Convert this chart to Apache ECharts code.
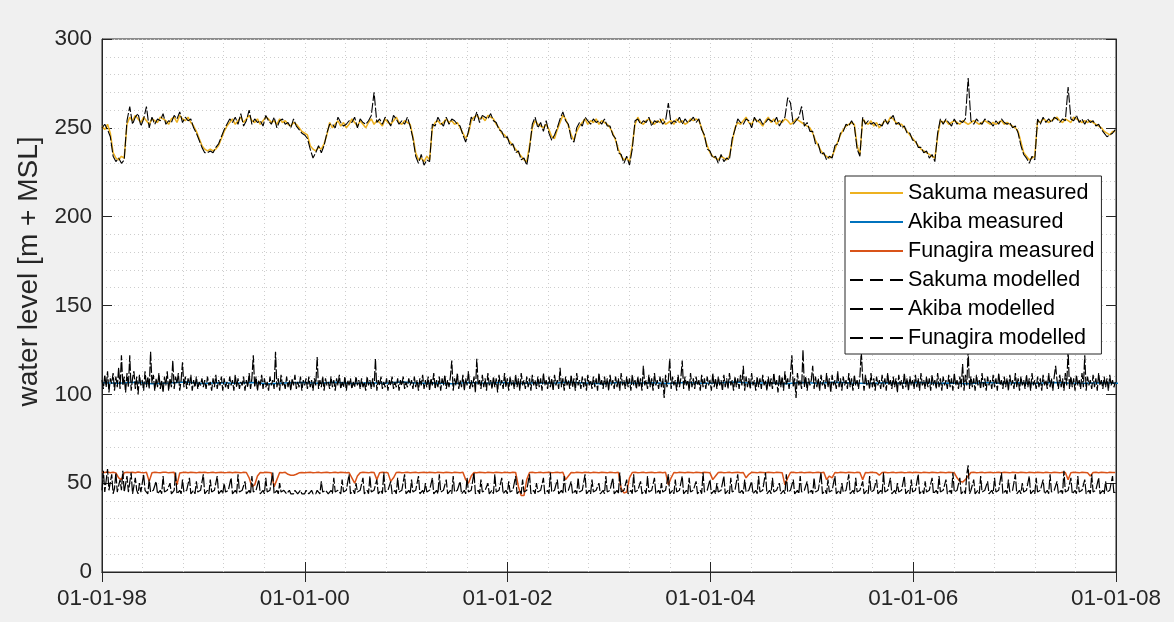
<!DOCTYPE html>
<html>
<head>
<meta charset="utf-8">
<script src="https://cdn.jsdelivr.net/npm/echarts@6/dist/echarts.min.js"></script>
<style>
  html, body { margin: 0; padding: 0; background: #f0f0f0; }
  #chart { width: 1174px; height: 622px; }
</style>
</head>
<body>
<div id="chart"></div>
<script>
// Water levels from 1 Jan 1998, one value every N days per series.
const START_YEAR = 1998;
const END_YEAR = 2008;
const STEP_DAYS = 10;        // Sakuma (both) and Funagira measured
const DENSE_STEP_DAYS = 5;   // Akiba and Funagira modelled
const AKIBA_STEP_DAYS = 60;  // Akiba measured

const xTickLabels = ['01-01-98', '01-01-00', '01-01-02', '01-01-04', '01-01-06', '01-01-08'];
const yTickValues = [0, 50, 100, 150, 200, 250, 300];

const seriesNames = [
  'Sakuma measured', 'Akiba measured', 'Funagira measured',
  'Sakuma modelled', 'Akiba modelled', 'Funagira modelled'
];

const sakumaMeasured = [
  251, 249, 252, 247, 236, 233, 232, 234, 233,
  252, 256, 254, 257, 255, 253, 256, 254, 252, 255, 254, 253, 256, 255, 254, 252, 255, 256, 253, 257, 255, 254, 256, 253, 251,
  248, 244, 240, 238, 237, 238, 237, 238, 240, 244, 248, 251,
  253, 255, 252, 254, 256, 253, 255, 257, 254, 253, 255, 252, 254, 256, 255, 253, 254, 252, 255, 253, 254, 252, 251, 253, 252, 250,
  248, 247, 246, 240, 238, 237, 239, 238, 241, 246, 253,
  250, 252, 254, 251, 253, 250, 252, 255, 253, 251, 254, 252, 250, 253, 255, 252, 254, 253, 251, 255, 253, 252, 254, 256, 253, 252, 254, 253, 252,
  245, 236, 232, 233, 231, 234, 232,
  250, 253, 254, 252, 253, 255, 253, 254, 252, 253, 250,
  247, 244, 247,
  254, 256, 257, 255, 256, 254, 257, 256, 255,
  252, 250, 247, 246, 244, 242, 240, 238, 236, 234, 232, 231,
  240, 250, 254,
  252, 251, 250, 252, 249, 245, 244, 249,
  253, 257, 255, 251,
  246, 243, 248,
  251, 253, 255, 252, 254, 253, 255, 252, 254, 253, 252,
  250, 247, 243, 238, 234, 232, 233, 231,
  240, 252, 256,
  253, 252, 254, 255, 253, 252, 254, 253, 255, 252, 253, 254, 252, 255, 253, 254, 252, 253, 255, 254, 255, 254, 250, 245,
  240, 236, 234, 233, 232, 234, 233, 232, 234,
  242, 250, 253,
  252, 254, 256, 253, 252, 255, 254, 253, 251, 254, 256, 253, 255, 252, 254, 253, 255, 254, 252, 253, 255, 254, 253, 252, 251,
  250, 247, 243, 240, 237, 235, 234, 233,
  234, 238, 242, 246, 249, 251, 252, 253, 252,
  240, 235,
  255, 253, 252, 254, 251, 253, 250, 252, 254, 253, 256, 255, 253, 252,
  252, 250, 248, 246, 244, 242, 240, 238, 237, 236, 235, 234, 233,
  245, 254,
  253, 254, 252, 253, 254, 253, 252, 254, 253, 252, 253, 254, 253, 252, 253, 254, 253, 252, 253, 252, 253, 254, 252, 253, 252, 251, 250,
  248, 242, 236, 234, 232, 233, 234,
  254, 253, 255, 254, 253, 254, 255, 256, 254, 253, 255, 254, 253, 256, 255, 254, 253, 254, 253, 254, 253, 252, 251,
  250, 248, 247, 246, 248, 248
];

const sakumaModelled = [
  250, 252, 249, 245, 234, 231, 233, 230, 232,
  254, 262, 252, 256, 258, 251, 255, 262, 250, 256, 252, 255, 254, 258, 252, 254, 253, 257, 255, 259, 253, 256, 254, 255, 250,
  247, 243, 239, 236, 236, 237, 236, 239, 241, 245, 249, 252,
  255, 253, 256, 252, 258, 251, 254, 260, 252, 255, 253, 254, 251, 257, 254, 252, 256, 250, 254, 255, 252, 253, 250, 255, 251, 249,
  247, 246, 244, 238, 233, 236, 240, 236, 240, 247, 252,
  252, 250, 256, 253, 251, 252, 254, 253, 256, 250, 255, 253, 252, 254, 257, 270, 253, 255, 252, 256, 254, 251, 257, 255, 252, 254, 252, 256, 251,
  244, 234, 230, 235, 229, 232, 231,
  252, 251, 256, 253, 251, 256, 252, 255, 254, 252, 251,
  246, 242, 248,
  256, 254, 259, 253, 257, 256, 255, 258, 254,
  253, 249, 248, 244, 245, 240, 241, 236, 237, 232, 233, 229,
  238, 252, 256,
  250, 253, 248, 254, 247, 243, 246, 250,
  255, 259, 254, 252,
  244, 242, 250,
  253, 251, 256, 254, 252, 255, 253, 254, 252, 255, 251,
  251, 246, 244, 236, 235, 230, 234, 229,
  238, 254, 255,
  252, 254, 253, 256, 251, 254, 253, 255, 252, 254, 264, 252, 254, 253, 256, 252, 255, 253, 254, 256, 253, 255, 249, 246,
  238, 237, 233, 234, 230, 235, 231, 233, 232,
  244, 249, 255,
  253, 252, 255, 254, 250, 256, 253, 255, 252, 253, 255, 254, 253, 256, 251, 254, 256, 267, 264, 252, 254, 256, 262, 251, 253,
  248, 248, 241, 241, 235, 236, 232, 234,
  233, 240, 241, 247, 248, 252, 251, 254, 251,
  238, 234,
  256, 252, 254, 252, 253, 251, 252, 251, 255, 252, 255, 257, 252, 253,
  250, 251, 247, 247, 243, 243, 239, 239, 236, 237, 233, 235, 231,
  247, 255,
  252, 255, 253, 251, 255, 252, 254, 253, 255, 278, 254, 252, 255, 253, 252, 255, 254, 253, 251, 254, 252, 255, 253, 252, 253, 250, 251,
  247, 240, 235, 233, 230, 234, 232,
  255, 252, 256, 253, 255, 253, 256, 255, 253, 255, 254, 273, 255, 254, 257, 253, 255, 252, 255, 253, 254, 251, 252,
  249, 247, 245, 246, 247, 249
];

const akibaMeasured = [
  106.5, 106.2, 106.8, 106.0, 106.4, 106.9, 106.1, 106.5, 106.3, 106.7,
  106.0, 106.4, 106.6, 106.2, 106.8, 106.1, 106.5, 106.3, 106.9, 106.2,
  106.4, 106.0, 106.6, 106.3, 106.7, 106.1, 106.5, 106.2, 106.8, 106.4,
  106.0, 106.6, 106.3, 106.5, 106.1, 106.7, 106.2, 106.4, 106.9, 106.3,
  106.5, 106.0, 106.6, 106.2, 106.8, 106.4, 106.1, 106.5, 106.3, 106.7,
  106.2, 106.4, 106.0, 106.6, 106.3, 106.5, 106.1, 106.7, 106.4, 106.2,
  106.5, 106.3
];

const akibaModelled = [
  108, 103, 111, 104, 113, 101, 109, 106, 112, 102, 110, 104, 115, 103, 122, 105, 110, 101, 112, 104, 122, 102, 109, 113, 103, 110, 100, 111, 105, 108, 102, 113, 104, 110, 103, 124, 106,
  111, 102, 109, 104, 112, 103, 108, 101, 110, 105, 113, 102, 109, 104, 119, 103, 110, 106, 112, 102, 108, 118, 104, 110, 103, 109, 105, 111, 102, 108, 104, 110, 103, 107, 105, 109, 104,
  108, 103, 110, 105, 107, 102, 109, 104, 111, 103, 108, 105, 110, 102, 109, 104, 107, 103, 110, 105, 108, 102, 111, 104, 109, 103, 107, 105, 110, 102, 108, 104, 112, 103, 109, 122, 104,
  110, 102, 108, 105, 111, 103, 109, 104, 107, 102, 110, 105, 108, 103, 124, 104, 109, 102, 111, 105, 107, 103, 110, 104, 108, 102, 109, 105, 111, 103, 107, 104, 110, 102, 108, 105, 109,
  103, 110, 104, 108, 102, 109, 105, 121, 103, 108, 104, 110, 102, 109, 105, 107, 103, 110, 104, 108, 102, 109, 105, 111, 103, 107, 104, 110, 102, 108, 105, 109, 103, 107, 104, 110, 105,
  108, 103, 109, 104, 107, 102, 110, 105, 108, 103, 109, 104, 120, 102, 108, 105, 110, 103, 107, 104, 109, 102, 108, 105, 110, 103, 107, 104, 109, 102, 108, 105, 110, 103, 107, 104, 109,
  105, 108, 103, 110, 104, 108, 102, 109, 105, 111, 103, 108, 104, 110, 102, 109, 105, 112, 103, 108, 104, 110, 102, 109, 105, 111, 103, 108, 104, 110, 119, 102, 109, 105, 112, 103, 108,
  104, 111, 102, 109, 105, 113, 103, 108, 104, 110, 101, 120, 105, 108, 103, 111, 104, 109, 102, 112, 105, 108, 103, 110, 104, 109, 101, 111, 105, 108, 103, 112, 104, 109, 102, 110, 105,
  108, 103, 111, 104, 109, 102, 112, 105, 108, 103, 110, 104, 109, 102, 111, 105, 108, 103, 110, 104, 109, 102, 112, 105, 108, 103, 110, 104, 109, 102, 111, 105, 108, 103, 115, 104, 109,
  102, 110, 105, 108, 103, 111, 104, 109, 102, 112, 105, 108, 103, 110, 104, 109, 102, 111, 105, 108, 103, 110, 104, 109, 102, 112, 105, 108, 103, 110, 104, 109, 102, 111, 105, 108, 103,
  110, 104, 109, 102, 112, 105, 108, 103, 110, 104, 109, 102, 111, 105, 108, 103, 110, 104, 109, 102, 116, 105, 108, 103, 111, 104, 109, 102, 112, 105, 108, 103, 110, 104, 109, 98, 111,
  104, 108, 120, 103, 110, 105, 108, 102, 111, 104, 109, 119, 103, 110, 105, 108, 102, 112, 104, 109, 103, 110, 105, 108, 102, 111, 104, 109, 103, 110, 105, 108, 102, 112, 104, 109, 103,
  110, 105, 108, 102, 111, 104, 109, 103, 112, 105, 108, 102, 110, 104, 109, 103, 111, 105, 116, 102, 110, 104, 109, 103, 112, 105, 108, 102, 110, 104, 109, 103, 111, 105, 108, 102, 110,
  104, 109, 103, 112, 105, 108, 101, 111, 104, 110, 102, 113, 105, 109, 103, 111, 122, 104, 109, 98, 112, 105, 108, 103, 125, 104, 110, 102, 109, 105, 108, 116, 103, 110, 104, 109, 102,
  111, 105, 108, 103, 112, 104, 109, 101, 111, 105, 108, 103, 113, 104, 109, 102, 110, 105, 108, 103, 112, 104, 109, 102, 111, 105, 108, 103, 110, 124, 109, 102, 111, 105, 108, 103, 112,
  104, 109, 102, 110, 105, 108, 103, 111, 104, 109, 102, 112, 105, 108, 103, 110, 104, 109, 101, 111, 105, 108, 103, 112, 104, 109, 102, 110, 105, 108, 103, 111, 104, 109, 102, 112, 105,
  108, 103, 110, 104, 109, 102, 111, 105, 108, 103, 112, 104, 109, 102, 110, 105, 108, 103, 111, 104, 109, 102, 112, 105, 108, 103, 110, 104, 117, 102, 111, 105, 125, 103, 110, 104, 109,
  102, 111, 105, 108, 103, 112, 104, 109, 102, 110, 105, 108, 103, 111, 104, 109, 102, 112, 105, 108, 103, 110, 104, 109, 102, 111, 105, 108, 103, 112, 104, 109, 102, 110, 105, 108, 103,
  111, 104, 109, 102, 112, 105, 108, 103, 110, 104, 109, 102, 111, 105, 108, 103, 112, 104, 109, 102, 110, 116, 108, 103, 111, 104, 109, 102, 112, 105, 125, 103, 110, 104, 109, 102, 111,
  105, 108, 103, 112, 104, 122, 102, 110, 105, 108, 103, 111, 104, 109, 102, 112, 105, 108, 103, 110, 104, 109, 102, 111, 105, 108, 104, 107
];

const funagiraMeasured = [
  56.2, 56.0, 56.3, 55.9, 56.1, 55.8, 53, 52, 55.9, 56.2, 56.0, 56.1, 55.9, 56.3, 56.0, 55.8, 56.1, 51, 55.9, 56.2, 56.0, 55.9, 56.1, 56.2, 55.8, 56.0, 56.1, 49, 55.7, 56.0, 56.2, 55.9, 56.1, 56.0, 55.8, 56.1, 56.0,
  56.1, 55.9, 56.0, 56.2, 55.8, 56.0, 56.1, 55.9, 56.0, 56.2, 55.9, 56.1, 56.0, 55.8, 56.1, 56.0, 53, 48, 49, 54, 56.0, 55.9, 56.1, 56.0, 55.8, 48, 52, 56.0, 55.9, 56.1, 55, 54.5, 54.5, 55, 55.8, 56.0, 55.9,
  56.0, 56.1, 55.9, 56.0, 56.2, 55.8, 56.0, 56.1, 55.9, 56.0, 56.2, 55.9, 56.1, 56.0, 55.8, 56.0, 53, 50, 54, 55.9, 56.1, 56.0, 55.8, 56.1, 56.0, 52, 55.9, 56.1, 56.0, 55.8, 51, 53, 56.0, 56.1, 55.9, 56.0, 56.2,
  55.9, 56.0, 56.1, 55.8, 56.0, 56.2, 55.9, 56.1, 56.0, 55.8, 56.1, 56.0, 55.9, 56.2, 56.0, 55.8, 56.1, 56.0, 55.9, 56.1, 52, 50, 54, 56.0, 55.9, 56.1, 56.0, 55.8, 56.1, 56.0, 55.9, 56.2, 56.0, 55.8, 56.1, 56.0, 55.9,
  56.1, 56.0, 48, 43, 43, 52, 56.0, 56.1, 55.9, 56.0, 56.2, 55.8, 56.0, 56.1, 55.9, 56.0, 56.2, 55.9, 56.1, 52, 54, 56.0, 55.8, 56.1, 56.0, 55.9, 56.2, 56.0, 55.8, 56.1, 56.0, 55.9, 56.1, 56.0, 55.8, 56.2, 56.0,
  55.9, 56.1, 47, 44.5, 45, 53, 56.0, 56.1, 55.9, 56.0, 56.2, 55.8, 56.0, 56.1, 55.9, 56.0, 56.2, 55.9, 56.1, 49, 53, 56.0, 55.8, 56.1, 56.0, 55.9, 56.2, 56.0, 55.8, 56.1, 56.0, 55.9, 56.1, 56.0, 55.8, 52, 54,
  56.0, 56.1, 55.9, 56.0, 56.2, 55.8, 56.0, 56.1, 55.9, 56.0, 53, 55, 56.1, 56.0, 55.8, 56.1, 56.0, 55.9, 56.2, 56.0, 55.8, 56.1, 56.0, 55.9, 49, 53, 56.0, 56.1, 55.9, 56.0, 56.2, 55.8, 56.0, 56.1, 55.9, 56.0, 56.2,
  55.9, 56.1, 52, 54, 53, 56.0, 55.8, 56.1, 56.0, 55.9, 56.2, 56.0, 55.8, 56.1, 56.0, 52, 56.0, 55.9, 56.1, 56.0, 55.8, 54.5, 56.0, 56.1, 55.9, 56.0, 56.2, 55.8, 56.0, 56.1, 55.9, 56.0, 56.2, 55.9, 56.1, 56.0, 55.8,
  56.1, 56.0, 55.9, 56.2, 56.0, 55.8, 56.1, 56.0, 55.9, 56.1, 56.0, 55.8, 53, 51, 50.6, 52, 54, 56.0, 56.1, 55.9, 56.0, 56.2, 55.8, 56.0, 56.1, 55.9, 56.0, 56.2, 55.9, 56.1, 56.0, 55.8, 56.1, 56.0, 55.9, 56.2, 56.0,
  55.8, 56.1, 56.0, 55.9, 56.1, 56.0, 55.8, 56.2, 56.0, 55.9, 56.1, 56.0, 55.8, 56.1, 56.0, 52, 55.9, 56.1, 56.0, 55.8, 56.1, 56.0, 55.9, 54, 56.0, 56.2, 55.9, 56.1, 56.0, 55.8, 56.1, 56.0, 56.0
];

const funagiraModelled = [
  46, 57, 45, 44, 58, 46, 45, 55, 44, 47, 56, 45, 44, 52, 46, 57, 45, 44, 54, 45, 46, 56, 44, 45, 53, 46, 44, 50, 45, 44, 55, 46, 45, 44, 52, 45, 44,
  46, 45, 51, 44, 45, 46, 44, 54, 45, 44, 46, 45, 50, 44, 45, 46, 56, 44, 45, 46, 44, 52, 45, 44, 46, 45, 53, 44, 45, 46, 44, 51, 45, 44, 46, 45, 55,
  44, 45, 46, 44, 52, 45, 44, 46, 45, 54, 44, 45, 46, 44, 50, 45, 44, 46, 45, 53, 44, 45, 46, 44, 55, 45, 44, 46, 45, 51, 44, 45, 46, 44, 54, 45, 44,
  46, 45, 52, 44, 45, 46, 44, 53, 45, 44, 46, 45, 56, 44, 45, 46, 44, 50, 45, 44, 46, 45, 44, 45, 46, 44, 45, 44, 46, 45, 44, 45, 46, 44, 45, 44, 46,
  45, 44, 45, 46, 44, 45, 44, 46, 45, 44, 51, 45, 44, 46, 45, 44, 45, 46, 44, 53, 45, 44, 46, 45, 44, 52, 45, 44, 46, 45, 55, 44, 45, 46, 44, 50, 45,
  44, 46, 45, 53, 44, 45, 46, 44, 54, 45, 44, 46, 45, 52, 44, 45, 46, 44, 56, 45, 44, 46, 45, 51, 44, 45, 46, 44, 53, 45, 44, 46, 45, 55, 44, 45, 46,
  44, 52, 45, 44, 46, 45, 54, 44, 45, 46, 44, 50, 45, 44, 46, 45, 53, 44, 45, 46, 44, 55, 45, 44, 46, 45, 52, 44, 45, 46, 44, 54, 45, 44, 46, 45, 51,
  44, 45, 46, 44, 53, 45, 44, 46, 45, 56, 44, 45, 46, 44, 52, 45, 44, 46, 45, 50, 44, 45, 46, 44, 55, 45, 44, 46, 45, 53, 44, 45, 46, 44, 51, 45, 44,
  46, 45, 54, 44, 45, 46, 44, 52, 45, 44, 46, 45, 55, 44, 45, 46, 44, 50, 45, 44, 46, 45, 53, 44, 45, 46, 44, 56, 45, 44, 46, 45, 52, 44, 45, 46, 44,
  54, 45, 44, 46, 45, 51, 44, 45, 46, 44, 53, 45, 44, 46, 45, 55, 44, 45, 46, 44, 52, 45, 44, 46, 45, 50, 44, 45, 46, 44, 54, 45, 44, 46, 45, 53, 44,
  45, 46, 44, 56, 45, 44, 46, 45, 52, 44, 45, 46, 44, 55, 45, 44, 46, 45, 51, 44, 45, 46, 44, 54, 45, 44, 46, 45, 53, 44, 45, 46, 44, 50, 45, 44, 46,
  45, 55, 44, 45, 46, 44, 52, 45, 44, 46, 45, 54, 44, 45, 46, 44, 53, 45, 44, 46, 45, 51, 44, 45, 46, 44, 56, 45, 44, 46, 45, 52, 44, 45, 46, 44, 50,
  45, 44, 46, 45, 54, 44, 45, 46, 44, 53, 45, 44, 46, 45, 55, 44, 45, 46, 44, 52, 45, 44, 46, 45, 51, 44, 45, 46, 44, 54, 45, 44, 46, 45, 56, 44, 45,
  46, 44, 53, 45, 44, 46, 45, 50, 44, 45, 46, 44, 55, 45, 44, 46, 45, 52, 44, 45, 46, 44, 54, 45, 44, 46, 45, 51, 44, 45, 46, 44, 53, 45, 44, 46, 45,
  56, 44, 45, 46, 44, 52, 45, 44, 46, 45, 54, 44, 45, 46, 44, 50, 45, 44, 46, 45, 55, 44, 45, 46, 44, 53, 45, 44, 46, 45, 51, 44, 45, 46, 44, 54, 45,
  44, 46, 45, 52, 44, 45, 46, 44, 56, 45, 44, 46, 45, 53, 44, 45, 46, 44, 50, 45, 44, 46, 45, 54, 44, 45, 46, 44, 52, 45, 44, 46, 45, 55, 44, 45, 46,
  44, 51, 45, 44, 46, 45, 53, 44, 45, 46, 44, 54, 45, 44, 46, 45, 52, 44, 45, 46, 44, 56, 45, 44, 46, 45, 53, 44, 45, 46, 44, 55, 60, 44, 46, 45, 52,
  44, 45, 46, 44, 54, 45, 44, 46, 45, 51, 44, 45, 46, 44, 53, 45, 44, 46, 45, 56, 44, 45, 46, 44, 52, 45, 44, 46, 45, 55, 44, 45, 46, 44, 50, 45, 44,
  46, 45, 54, 44, 45, 46, 44, 53, 45, 44, 46, 45, 52, 44, 45, 46, 44, 55, 45, 44, 46, 45, 51, 44, 45, 46, 44, 57, 45, 44, 46, 45, 53, 44, 45, 46, 44,
  54, 45, 44, 46, 45, 52, 44, 45, 46, 44, 55, 45, 44, 46, 45, 53, 44, 45, 46, 44, 51, 45, 44, 46, 45, 54, 44, 45
];

// MATLAB default line colours
const COLORS = { sakuma: '#EDB120', akiba: '#0072BD', funagira: '#D95319', model: '#000000' };
const TEXT = '#262626';
const GRID_LINE = { color: '#cdcdcd', type: [1, 3], width: 1 };
const FONT = 'Liberation Sans, Arial, sans-serif';
const DASH = [10, 2];

// Legend glyphs: a solid bar for measured series, three dashes for modelled ones
const ICON_SOLID = 'rect';
const ICON_DASHED = 'path://M0,0H13V1H0Z M20,0H33V1H20Z M40,0H53V1H40Z';

function toPoints(values, stepDays) {
  return values.map((v, i) => [START_YEAR + (i * stepDays) / 365.25, v]);
}

function xLabel(v) {
  const idx = Math.round((v - START_YEAR) / 2);
  return xTickLabels[idx] !== undefined ? xTickLabels[idx] : '';
}

function lineSeries(name, values, stepDays, color, dashed, width) {
  return {
    name: name,
    type: 'line',
    data: toPoints(values, stepDays),
    symbol: 'none',
    showSymbol: false,
    silent: true,
    itemStyle: { color: color },
    lineStyle: { color: color, width: width, type: dashed ? DASH : 'solid' },
    emphasis: { disabled: true }
  };
}

const chart = echarts.init(document.getElementById('chart'), null, { renderer: 'canvas' });

const option = {
  backgroundColor: '#f0f0f0',
  animation: false,
  grid: {
    left: 102, right: 58, top: 39, bottom: 50,
    show: true, backgroundColor: '#ffffff', borderColor: TEXT, borderWidth: 1
  },
  xAxis: [
    {
      type: 'value', min: START_YEAR, max: END_YEAR, interval: 2, position: 'bottom',
      axisLine: { show: true, lineStyle: { color: TEXT, width: 1 } },
      axisTick: { show: true, inside: true, length: 10, lineStyle: { color: TEXT } },
      axisLabel: { formatter: xLabel, color: TEXT, fontSize: 22.5, fontFamily: FONT, margin: 15 },
      splitLine: { show: true, lineStyle: GRID_LINE },
      minorTick: { show: false, splitNumber: 5 },
      minorSplitLine: { show: true, lineStyle: GRID_LINE }
    },
    {
      type: 'value', min: START_YEAR, max: END_YEAR, interval: 2, position: 'top',
      axisLine: { show: true, lineStyle: { color: TEXT, width: 1 } },
      axisTick: { show: true, inside: true, length: 10, lineStyle: { color: TEXT } },
      axisLabel: { show: false },
      splitLine: { show: false }
    }
  ],
  yAxis: [
    {
      type: 'value', min: yTickValues[0], max: yTickValues[yTickValues.length - 1], interval: 50, position: 'left',
      name: 'water level [m + MSL]', nameLocation: 'middle', nameGap: 56,
      nameTextStyle: { color: TEXT, fontSize: 28, fontFamily: FONT, padding: [0, 0, 0, 68] },
      axisLine: { show: true, lineStyle: { color: TEXT, width: 1 } },
      axisTick: { show: true, inside: true, length: 10, lineStyle: { color: TEXT } },
      axisLabel: { color: TEXT, fontSize: 22.5, fontFamily: FONT, margin: 10 },
      splitLine: { show: true, lineStyle: GRID_LINE },
      minorTick: { show: false, splitNumber: 5 },
      minorSplitLine: { show: true, lineStyle: GRID_LINE }
    },
    {
      type: 'value', min: yTickValues[0], max: yTickValues[yTickValues.length - 1], interval: 50, position: 'right',
      axisLine: { show: true, lineStyle: { color: TEXT, width: 1 } },
      axisTick: { show: true, inside: true, length: 10, lineStyle: { color: TEXT } },
      axisLabel: { show: false },
      splitLine: { show: false }
    }
  ],
  legend: {
    orient: 'vertical', left: 845, top: 176,
    backgroundColor: '#ffffff', borderColor: TEXT, borderWidth: 1, borderRadius: 0,
    padding: [6, 7, 5, 5],
    itemWidth: 53, itemHeight: 2, itemGap: 7, selectedMode: false,
    symbolKeepAspect: false,
    itemStyle: { borderWidth: 0 },
    textStyle: { color: '#000000', fontSize: 21.5, fontFamily: FONT },
    data: seriesNames.map((n, i) => ({ name: n, icon: i < 3 ? ICON_SOLID : ICON_DASHED }))
  },
  series: [
    lineSeries(seriesNames[0], sakumaMeasured, STEP_DAYS, COLORS.sakuma, false, 1.5),
    lineSeries(seriesNames[1], akibaMeasured, AKIBA_STEP_DAYS, COLORS.akiba, false, 1.5),
    lineSeries(seriesNames[2], funagiraMeasured, STEP_DAYS, COLORS.funagira, false, 1.5),
    lineSeries(seriesNames[3], sakumaModelled, STEP_DAYS, COLORS.model, true, 1.1),
    lineSeries(seriesNames[4], akibaModelled, DENSE_STEP_DAYS, COLORS.model, true, 1.2),
    lineSeries(seriesNames[5], funagiraModelled, DENSE_STEP_DAYS, COLORS.model, true, 1.2)
  ]
};

chart.setOption(option);
</script>
</body>
</html>
